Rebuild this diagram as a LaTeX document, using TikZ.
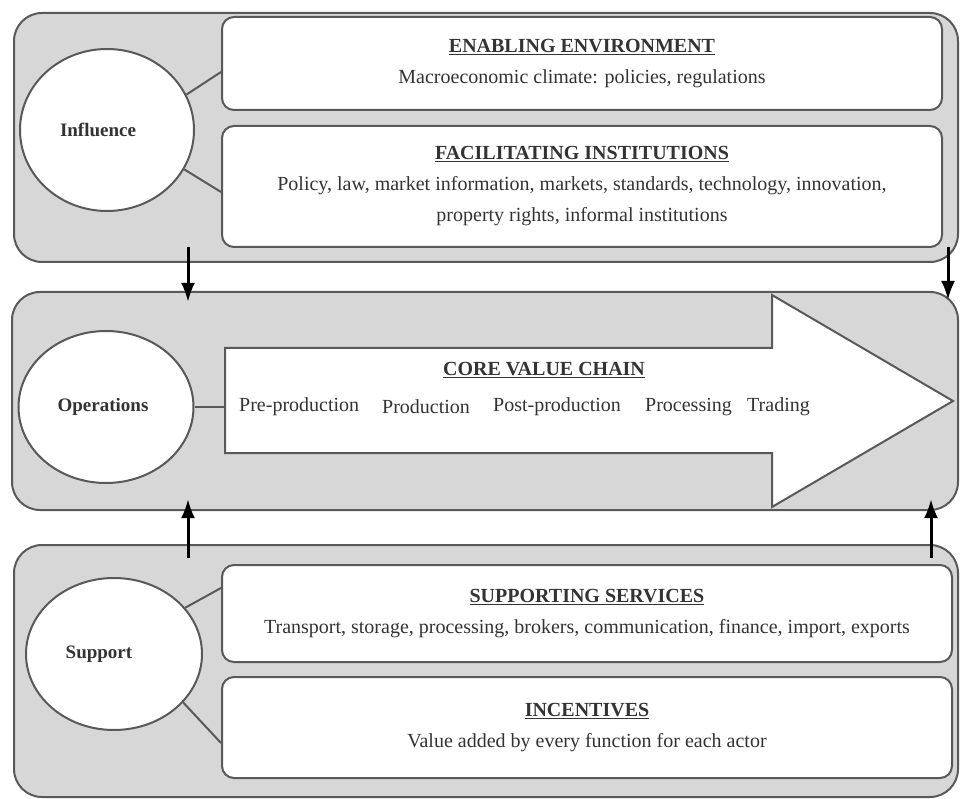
\documentclass[tikz,border=0pt]{standalone}
\usepackage{fontspec}
\setmainfont{Liberation Serif}
\usepackage{tikz}
\usetikzlibrary{arrows.meta}
\usetikzlibrary{shapes.geometric}
\definecolor{panelgray}{HTML}{D7D7D7}
\definecolor{edgegray}{HTML}{595959}
\definecolor{inkgray}{HTML}{333333}

\begin{document}
\begin{tikzpicture}[x=1pt,y=-1pt]
\tikzset{>={Latex[width=14pt,length=19pt]}}
\tikzstyle{panel}=[draw=edgegray,fill=panelgray,line width=2pt,rounded corners=28pt]
\tikzstyle{box}=[draw=edgegray,fill=white,line width=2pt,rounded corners=12pt,text=inkgray,align=center,inner sep=0pt,font=\fontsize{20}{31}\selectfont]
\tikzstyle{group}=[ellipse,draw=edgegray,fill=white,line width=2pt,inner sep=0pt,text=inkgray,font=\fontsize{19}{23}\selectfont\bfseries]
\tikzstyle{stage}=[anchor=west,inner sep=0pt,text=inkgray,font=\fontsize{20}{24}\selectfont]

\useasboundingbox (0,0) rectangle (961,799);

% panels
\draw[panel] (14,13) rectangle (958,262);
\draw[panel] (12,292) rectangle (958,510);
\draw[panel] (14,545) rectangle (958,797);

% influence
\node[group,minimum width=174pt,minimum height=162pt](infl) at (107,130){Influence\hspace*{18pt}};
\node[box,minimum width=720pt,minimum height=93pt](enab) at (582,63.5){\underline{\textbf{ENABLING ENVIRONMENT}}\\Macroeconomic climate: policies, regulations};
\node[box,minimum width=720pt,minimum height=121pt](facil) at (582,186.5){\underline{\textbf{FACILITATING INSTITUTIONS}}\\Policy, law, market information, markets, standards, technology, innovation,\\property rights, informal institutions};

\draw [edgegray,line width=2pt] (infl.24) -- ([yshift=-8.5pt]enab.west);
\draw [edgegray,line width=2pt] (infl.-27) -- ([yshift=-5.5pt]facil.west);

% operations
\node[group,minimum width=175pt,minimum height=152pt](ops) at (106,407){Operations\hspace*{6pt}};
\draw[draw=edgegray,fill=white,line width=2pt] (225,348) -- (772,348) -- (772,295) -- (953,401) -- (772,507) -- (772,453) -- (225,453) -- cycle;
\coordinate (chaintail) at (225,407);
\draw [edgegray,line width=2pt] (ops.east) -- (chaintail);

\node[stage,anchor=center](core) at (544,370){\underline{\textbf{CORE VALUE CHAIN}}};
\node[stage](s1) at (239,407){Pre-production};
\node[stage](s2) at (382,407){Production};
\node[stage](s3) at (493,407){Post-production};
\node[stage](s4) at (645,407){Processing};
\node[stage](s5) at (747,407){Trading};

% support
\node[group,minimum width=176pt,minimum height=152pt](supp) at (114,654){Support\hspace*{30pt}};
\node[box,minimum width=730pt,minimum height=97pt](serv) at (587,613.5){\underline{\textbf{SUPPORTING SERVICES}}\\Transport, storage, processing, brokers, communication, finance, import, exports};
\node[box,minimum width=730pt,minimum height=101pt](inc) at (587,727.5){\underline{\textbf{INCENTIVES}}\\Value added by every function for each actor};

\draw [edgegray,line width=2pt] (supp.33) -- ([yshift=25.5pt]serv.west);
\draw [edgegray,line width=2pt] (supp.-35) -- ([yshift=-15.5pt]inc.west);

% links between the levels
\coordinate (d1) at (188,247);
\coordinate (d1e) at (188,302);
\coordinate (d2) at (948,247);
\coordinate (d2e) at (948,300);
\coordinate (u1) at (188,558);
\coordinate (u1e) at (188,499);
\coordinate (u2) at (931,558);
\coordinate (u2e) at (931,499);

\draw [->,line width=3pt] (d1) to (d1e);
\draw [->,line width=3pt] (d2) to (d2e);
\draw [->,line width=3pt] (u1) to (u1e);
\draw [->,line width=3pt] (u2) to (u2e);
\end{tikzpicture}
\end{document}
